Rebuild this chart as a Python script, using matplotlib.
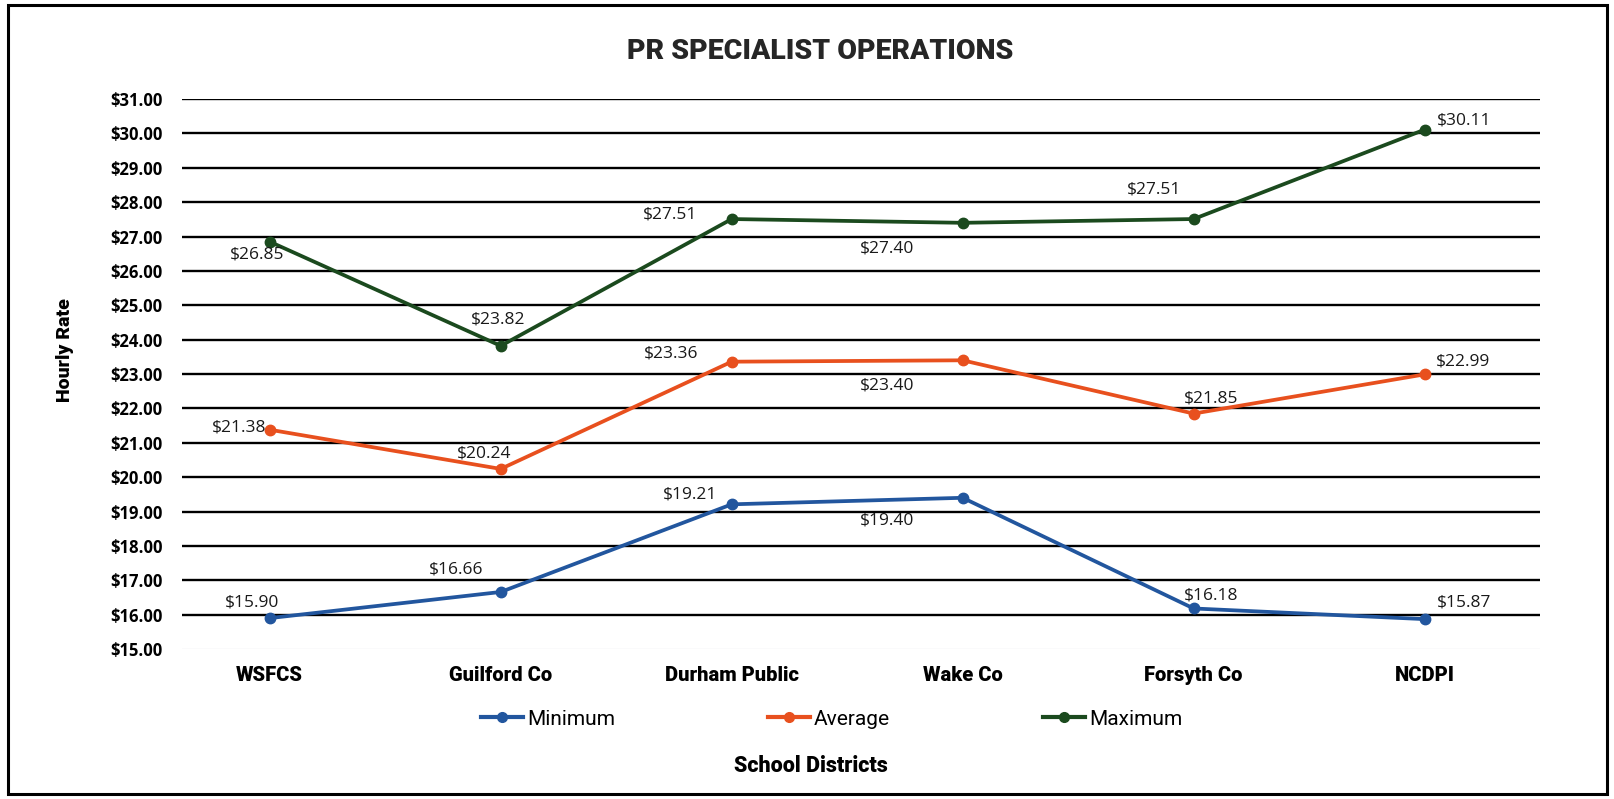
import matplotlib
matplotlib.use('Agg')
import matplotlib.pyplot as plt
from matplotlib.lines import Line2D
from matplotlib.patches import Rectangle

districts = ['WSFCS', 'Guilford Co', 'Durham Public', 'Wake Co', 'Forsyth Co', 'NCDPI']
minimum = [15.90, 16.66, 19.21, 19.40, 16.18, 15.87]
average = [21.38, 20.24, 23.36, 23.40, 21.85, 22.99]
maximum = [26.85, 23.82, 27.51, 27.40, 27.51, 30.11]
y_ticks = list(range(15, 32))

# label offsets in pixels (dx, dy) relative to each marker
min_off = [(-17, 15), (-43, 22), (-40, 10), (-73, -22), (17, 13), (38, 16)]
avg_off = [(-30, 2), (-16, 15), (-59, 8), (-73, -24), (17, 15), (37, 13)]
max_off = [(-12, -12), (-3, 26), (-60, 4), (-73, -25), (-38, 29), (38, 9)]

BLUE = '#22569E'
ORANGE = '#E8501E'
GREEN = '#1B4A1E'

fig = plt.figure(figsize=(16.15, 7.99), dpi=100)
ax = fig.add_axes([0.1127, 0.1877, 0.8409, 0.6883])

x = list(range(len(districts)))
series = [('Minimum', minimum, BLUE, min_off),
          ('Average', average, ORANGE, avg_off),
          ('Maximum', maximum, GREEN, max_off)]

for name, vals, col, offs in series:
    ax.plot(x, vals, color=col, lw=2.7, marker='o', ms=7.5, zorder=3, label=name)
    for xi, v, (dx, dy) in zip(x, vals, offs):
        ax.annotate(f"${v:.2f}", (xi, v), xytext=(dx * 1.03, dy * 1.03),
                    textcoords='offset pixels', ha='center', va='center',
                    fontsize=12.5, family='Open Sans', color='#1a1a1a', zorder=4)

ax.set_ylim(15, 31)
ax.set_xlim(-0.38, 5.5)
ax.set_yticks(y_ticks)
ax.set_yticklabels([f"${t:.2f}" for t in y_ticks], fontsize=12,
                   fontweight='bold', family='Open Sans')
ax.set_xticks(x)
ax.set_xticklabels(districts, fontsize=14.5, fontweight='black', family='Roboto')
ax.tick_params(length=0, pad=12)
ax.tick_params(axis='y', pad=14)
for t in y_ticks:
    if t == 15:
        ax.axhline(t, color='#e6e9ee', lw=1.0, zorder=1)
    else:
        ax.axhline(t, color='black', lw=1.7, zorder=1)
for s in ax.spines.values():
    s.set_visible(False)

fig.text(0.508, 0.936, 'PR SPECIALIST OPERATIONS', ha='center', va='center',
         fontsize=20.5, fontweight='black', family='Roboto', color='#262626')
fig.text(0.040, 0.562, 'Hourly Rate', rotation=90, ha='center', va='center',
         fontsize=14, fontweight='black', family='Roboto')
fig.text(0.502, 0.041, 'School Districts', ha='center', va='center',
         fontsize=15.5, fontweight='black', family='Roboto')

handles = [Line2D([], [], color=c, lw=3, marker='o', ms=7) for _, _, c, _ in series]
fig.legend(handles, [s[0] for s in series], loc='center', bbox_to_anchor=(0.515, 0.1),
           ncol=3, frameon=False, handlelength=2.0, handletextpad=0.2,
           columnspacing=7.35, prop={'family': 'Roboto', 'size': 15})

fig.patches.append(Rectangle((0.005, 0.006), 0.99, 0.988, transform=fig.transFigure,
                             fill=False, edgecolor='black', lw=2.2))

fig.savefig('out.png', dpi=100)
